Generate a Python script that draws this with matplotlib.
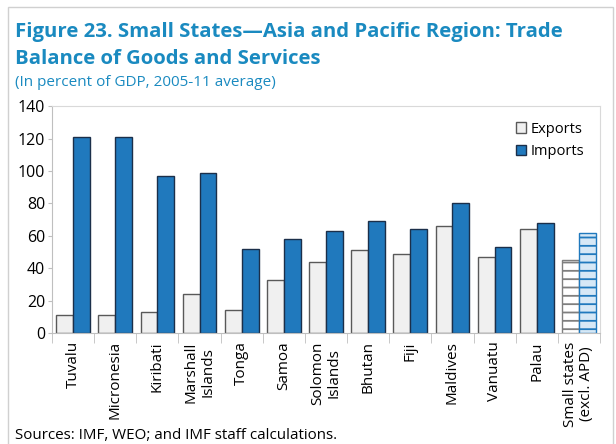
import matplotlib.pyplot as plt
import matplotlib.patches as mpatches
import numpy as np

plt.rcParams.update({
    'font.family': ['Open Sans', 'DejaVu Sans'],
    'hatch.linewidth': 1.3,
})

TITLE_BLUE = '#1a8ac0'
IMP = '#2079bd'
IMP_EDGE = '#1b2f4a'
EXP = '#f0f0f0'
EXP_EDGE = '#595959'

countries = ['Tuvalu', 'Micronesia', 'Kiribati', 'Marshall\nIslands', 'Tonga',
             'Samoa', 'Solomon\nIslands', 'Bhutan', 'Fiji', 'Maldives',
             'Vanuatu', 'Palau', 'Small states\n(excl. APD)']
exports = [11, 11, 13, 24, 14, 33, 44, 51, 49, 66, 47, 64, 45]
imports = [121, 121, 97, 99, 52, 58, 63, 69, 64, 80, 53, 68, 62]

fig = plt.figure(figsize=(6.16, 4.44), dpi=100)
ax = fig.add_axes([0.0844, 0.25, 0.8896, 0.511])

x = np.arange(len(countries))
w = 0.4
n = len(countries) - 1
ax.bar(x[:n] - w/2, exports[:n], w, color=EXP, edgecolor=EXP_EDGE, linewidth=1.0,
       label='Exports', zorder=2)
ax.bar(x[:n] + w/2, imports[:n], w, color=IMP, edgecolor=IMP_EDGE, linewidth=1.0,
       label='Imports', zorder=2)
# aggregate bars drawn hatched
ax.bar(x[n] - w/2, exports[n], w, color='white', edgecolor='#7f7f7f', hatch='--',
       linewidth=1.0, zorder=2)
ax.bar(x[n] + w/2, imports[n], w, color='#d6e8f6', edgecolor=IMP, hatch='--',
       linewidth=1.0, zorder=2)

ax.set_xlim(-0.5, len(countries) - 0.5)
ax.set_ylim(0, 140)
ax.set_yticks(np.arange(0, 141, 20))
ax.tick_params(axis='y', labelsize=11.5, length=3, color='#bfbfbf', pad=2)

ax.set_xticks(x)
ax.set_xticklabels(countries, rotation=90, fontsize=11, linespacing=1.1)
ax.tick_params(axis='x', length=0, pad=6)
ax.set_xticks(np.arange(-0.5, len(countries), 1), minor=True)
ax.tick_params(axis='x', which='minor', length=7, color='#bfbfbf')

for s in ['top', 'right']:
    ax.spines[s].set_color('#d9d9d9')
for s in ['left', 'bottom']:
    ax.spines[s].set_color('#bfbfbf')

ax.legend(loc='upper right', frameon=False, fontsize=10.5, handlelength=0.7,
          handleheight=0.7, handletextpad=0.3, labelspacing=0.5,
          bbox_to_anchor=(0.995, 0.99))

fig.text(0.025, 0.9167, 'Figure 23. Small States\u2014Asia and Pacific Region: Trade',
         fontsize=14.7, fontweight='bold', color=TITLE_BLUE, va='baseline')
fig.text(0.025, 0.856, 'Balance of Goods and Services',
         fontsize=14.7, fontweight='bold', color=TITLE_BLUE, va='baseline')
fig.text(0.025, 0.806, '(In percent of GDP, 2005-11 average)',
         fontsize=11, color=TITLE_BLUE, va='baseline')
fig.text(0.025, 0.0113, 'Sources: IMF, WEO; and IMF staff calculations.',
         fontsize=10.9, color='black', va='baseline')

fig.patches.append(mpatches.Rectangle((0.013, -0.01), 0.982, 0.994,
                                      transform=fig.transFigure, fill=False,
                                      edgecolor='#d0d0d0', linewidth=1.0))

fig.savefig('out.png', dpi=100)
